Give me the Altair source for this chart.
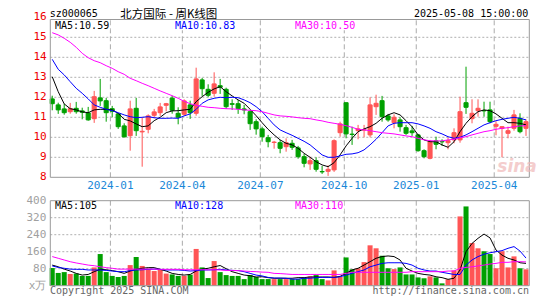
import altair as alt
import pandas as pd

# ---------------- data (weekly candles) ----------------
opens = [11.92, 11.62, 11.42, 11.28, 11.45, 11.32, 11.22, 10.93, 11.97, 11.83,
         11.43, 11.17, 10.57, 10.08, 11.45, 10.27, 10.40, 11.10, 11.23, 11.60,
         11.96, 11.20, 11.15, 11.62, 11.20, 12.87, 12.40, 12.20, 12.58, 12.40,
         11.68, 11.68, 11.42, 11.28, 10.78, 10.42, 9.98, 9.74, 9.73, 9.53,
         9.70, 9.47, 9.03, 8.67, 8.83, 8.29, 8.30, 8.37, 10.23, 11.73,
         10.16, 10.33, 10.36, 10.12, 11.53, 11.83, 11.07, 10.73, 10.87, 10.48,
         10.32, 10.12, 9.33, 8.95, 9.82, 9.79, 9.73, 9.87, 9.87, 11.73,
         10.93, 11.33, 11.34, 11.37, 10.55, 10.45, 10.20, 10.45, 10.95, 10.45]
highs = [12.08, 11.73, 11.67, 11.72, 11.77, 11.48, 11.52, 12.32, 12.92, 11.97,
         11.57, 11.20, 10.70, 11.83, 11.97, 11.00, 11.15, 11.42, 11.72, 11.72,
         12.08, 11.50, 11.90, 11.83, 13.48, 12.97, 12.65, 13.25, 12.92, 12.48,
         11.90, 11.87, 11.62, 11.37, 10.90, 10.53, 10.12, 9.82, 9.87, 9.95,
         9.87, 9.57, 9.17, 9.03, 9.00, 8.57, 8.60, 9.90, 10.78, 11.73,
         10.53, 10.62, 10.62, 12.00, 12.13, 12.07, 11.17, 11.15, 11.00, 10.62,
         10.57, 10.17, 9.40, 9.87, 10.03, 9.90, 10.00, 10.45, 12.03, 13.53,
         11.90, 11.90, 11.78, 11.78, 10.80, 10.55, 10.53, 11.37, 11.20, 10.90]
lows = [11.35, 11.17, 11.13, 11.18, 11.18, 10.90, 10.83, 10.72, 11.57, 10.78,
        11.00, 10.42, 10.00, 9.33, 10.07, 8.53, 10.20, 10.95, 11.07, 11.30,
        11.18, 10.65, 11.07, 10.92, 11.08, 12.07, 12.00, 12.03, 12.17, 11.42,
        11.37, 11.17, 11.15, 10.37, 10.13, 9.78, 9.50, 9.43, 9.20, 9.28,
        9.37, 8.93, 8.50, 8.37, 8.28, 8.17, 8.07, 8.27, 10.03, 9.95,
        9.62, 9.90, 10.00, 10.00, 11.12, 10.78, 10.78, 10.45, 10.28, 10.12,
        10.07, 9.28, 8.95, 8.90, 9.40, 9.57, 9.40, 9.70, 9.73, 11.17,
        10.70, 11.03, 11.03, 10.70, 10.10, 9.00, 9.95, 10.33, 10.20, 10.07]
closes = [11.68, 11.37, 11.23, 11.43, 11.28, 11.25, 10.87, 12.03, 11.82, 11.23,
          11.30, 10.53, 10.02, 11.42, 10.33, 10.30, 11.07, 11.27, 11.52, 11.68,
          11.35, 11.00, 11.82, 11.23, 12.92, 12.43, 12.10, 12.67, 12.50, 11.53,
          11.65, 11.43, 11.37, 10.68, 10.42, 10.03, 9.78, 9.76, 9.45, 9.73,
          9.50, 9.03, 8.70, 8.83, 8.40, 8.27, 8.40, 9.83, 10.67, 10.17,
          10.14, 10.42, 10.38, 11.62, 11.70, 11.03, 10.87, 11.00, 10.53, 10.20,
          10.23, 9.33, 9.03, 9.78, 9.65, 9.77, 9.83, 10.23, 11.28, 11.50,
          11.20, 11.45, 11.32, 10.78, 10.65, 10.53, 10.33, 11.12, 10.28, 10.78]
volumes = [83, 60, 64, 55, 57, 46, 46, 86, 149, 64,
           46, 41, 46, 97, 135, 93, 80, 69, 77, 57,
           53, 46, 46, 52, 173, 86, 36, 116, 64, 50,
           46, 46, 31, 50, 41, 31, 31, 31, 31, 31,
           31, 31, 38, 44, 50, 31, 25, 72, 41, 133,
           77, 82, 111, 190, 176, 141, 82, 78, 86, 53,
           53, 39, 35, 44, 39, 11, 30, 72, 326, 373,
           201, 176, 162, 149, 82, 162, 86, 138, 82, 77]
ma5 = [13.03, 12.28, 11.67, 11.43, 11.37, 11.27, 11.23, 11.37, 11.40, 11.40,
       11.37, 11.20, 10.90, 10.82, 10.67, 10.53, 10.57, 10.83, 11.00, 11.23,
       11.32, 11.33, 11.37, 11.40, 11.78, 12.03, 12.25, 12.42, 12.53, 12.28,
       12.07, 11.87, 11.70, 11.40, 11.08, 10.73, 10.40, 10.12, 9.87, 9.70,
       9.62, 9.45, 9.20, 9.00, 8.78, 8.62, 8.53, 8.73, 9.12, 9.57,
       9.95, 10.28, 10.42, 10.53, 10.70, 10.95, 11.12, 11.23, 11.12, 10.83,
       10.53, 10.12, 9.87, 9.78, 9.78, 9.62, 9.50, 9.78, 10.28, 10.70,
       11.03, 11.28, 11.37, 11.33, 11.17, 10.95, 10.73, 10.73, 10.70, 10.62]
ma10 = [13.90, 13.40, 13.12, 12.78, 12.45, 12.20, 11.92, 11.62, 11.50, 11.40,
        11.33, 11.23, 11.12, 11.03, 10.98, 11.00, 11.03, 10.98, 10.95, 10.95,
        10.96, 10.95, 11.07, 11.17, 11.40, 11.70, 11.87, 11.95, 12.00, 11.98,
        12.00, 11.98, 11.87, 11.73, 11.53, 11.28, 10.95, 10.62, 10.37, 10.23,
        10.10, 9.95, 9.80, 9.62, 9.37, 9.12, 9.00, 9.00, 9.07, 9.15,
        9.17, 9.23, 9.37, 9.62, 9.90, 10.23, 10.57, 10.70, 10.73, 10.73,
        10.73, 10.67, 10.57, 10.45, 10.28, 10.17, 10.03, 9.95, 10.00, 10.12,
        10.28, 10.45, 10.62, 10.73, 10.83, 10.90, 10.95, 11.00, 10.95, 10.87]
ma30 = [15.23, 15.12, 14.95, 14.75, 14.50, 14.20, 13.98, 13.83, 13.73, 13.58,
        13.45, 13.28, 13.15, 12.95, 12.83, 12.70, 12.58, 12.45, 12.32, 12.20,
        12.08, 11.95, 11.80, 11.68, 11.60, 11.55, 11.50, 11.48, 11.45, 11.43,
        11.42, 11.40, 11.37, 11.35, 11.33, 11.28, 11.20, 11.12, 11.07, 11.05,
        11.02, 10.98, 10.95, 10.93, 10.87, 10.82, 10.75, 10.70, 10.65, 10.58,
        10.50, 10.40, 10.37, 10.33, 10.28, 10.23, 10.20, 10.17, 10.12, 10.07,
        10.03, 9.95, 9.87, 9.83, 9.82, 9.82, 9.87, 9.90, 9.98, 10.03,
        10.12, 10.20, 10.28, 10.33, 10.40, 10.45, 10.48, 10.53, 10.57, 10.58]
vma5 = [97, 89, 78, 69, 58, 50, 53, 66, 77, 75,
        71, 66, 58, 69, 77, 82, 85, 85, 77, 69,
        58, 53, 50, 53, 69, 78, 82, 89, 95, 80,
        66, 58, 50, 47, 41, 42, 38, 35, 35, 35,
        35, 38, 38, 41, 41, 41, 41, 39, 44, 58,
        74, 82, 97, 113, 129, 137, 140, 137, 121, 82,
        69, 58, 53, 50, 42, 38, 30, 35, 74, 160,
        199, 223, 243, 225, 168, 144, 129, 121, 108, 105]
vma10 = [93, 86, 82, 78, 77, 77, 74, 74, 74, 72,
         69, 66, 66, 71, 74, 75, 77, 78, 77, 74,
         74, 74, 72, 69, 71, 74, 74, 75, 77, 74,
         72, 71, 66, 58, 50, 46, 39, 36, 36, 35,
         31, 31, 35, 35, 38, 39, 39, 39, 42, 50,
         58, 66, 74, 89, 97, 105, 108, 108, 108, 105,
         97, 82, 74, 69, 69, 63, 58, 53, 53, 97,
         121, 137, 148, 155, 160, 165, 176, 184, 163, 130]
vma30 = [137, 129, 121, 113, 107, 102, 97, 94, 89, 85,
         82, 78, 78, 78, 78, 78, 78, 78, 77, 77,
         77, 77, 75, 75, 75, 75, 75, 75, 74, 72,
         72, 71, 69, 67, 66, 64, 63, 58, 57, 55,
         53, 53, 53, 53, 53, 53, 53, 53, 53, 58,
         63, 63, 63, 63, 63, 63, 63, 63, 63, 63,
         66, 66, 66, 66, 66, 66, 69, 69, 82, 86,
         89, 93, 97, 102, 105, 110, 110, 113, 113, 112]

month_index = [10, 22, 35, 49, 61, 74]          # first week of the month
month_labels = ["2024-01", "2024-04", "2024-07", "2024-10", "2025-01", "2025-04"]
price_ticks = [8, 9, 10, 11, 12, 13, 14, 15, 16]
price_grid = [9, 10, 11, 12, 13, 14, 15]
vol_ticks = [0, 80, 160, 240, 320, 400]
vol_tick_labels = ["x万", "80", "160", "240", "320", "400"]
vol_grid = [80, 160, 240, 320]

code = "sz000065"
title = "北方国际 - 周K线图"
stamp = "2025-05-08 15:00:00"
leg_price = ["MA5:10.59", "MA10:10.83", "MA30:10.50"]
leg_vol = ["MA5:105", "MA10:128", "MA30:110"]

# ---------------- styling ----------------
RED, GREEN = "#ff5555", "#00a000"
MONO = "DejaVu Sans Mono"
CJK = "Noto Sans CJK SC"
W, H = 479, 266
P_TOP = 15.89
X = alt.Scale(domain=[-0.32, 79.55], nice=False, zero=False)
PY = alt.Scale(domain=[8, P_TOP], range=[157.8, 0], nice=False, zero=False)
VY = alt.Scale(domain=[0, 400], range=[266.2, 181.2], nice=False, zero=False)

n = len(opens)
df = pd.DataFrame({
    "i": list(range(n)), "open": opens, "high": highs, "low": lows, "close": closes,
    "vol": volumes, "ma5": ma5, "ma10": ma10, "ma30": ma30,
    "vma5": vma5, "vma10": vma10, "vma30": vma30,
})
df["col"] = [RED if c >= o else GREEN for o, c in zip(opens, closes)]
df["btop"] = df[["open", "close"]].max(axis=1)
df["bbot"] = df[["open", "close"]].min(axis=1)

base = alt.Chart(df)
xq = alt.X("i:Q", scale=X, axis=None)

layers = []

# grid lines
pg = pd.DataFrame({"v": price_grid})
layers.append(alt.Chart(pg).mark_rule(color="#b0b0b0", strokeDash=[2, 2], strokeWidth=1).encode(
    y=alt.Y("v:Q", scale=PY, axis=None),
    x=alt.X(datum=-0.32, scale=X, axis=None), x2=alt.X2(datum=79.55)))
vg = pd.DataFrame({"v": vol_grid})
layers.append(alt.Chart(vg).mark_rule(color="#b0b0b0", strokeDash=[2, 2], strokeWidth=1).encode(
    y=alt.Y("v:Q", scale=VY, axis=None),
    x=alt.X(datum=-0.32, scale=X, axis=None), x2=alt.X2(datum=79.55)))
mdf = pd.DataFrame({"m": month_index, "lab": month_labels})
mline = alt.Chart(mdf).transform_calculate(pos="datum.m - 0.3")
layers.append(mline.mark_rule(color="#aaaaaa", strokeDash=[5, 3], strokeWidth=1).encode(
    x=alt.X("pos:Q", scale=X, axis=None),
    y=alt.Y(datum=8, scale=PY, axis=None), y2=alt.Y2(datum=P_TOP)))
layers.append(mline.mark_rule(color="#aaaaaa", strokeDash=[5, 3], strokeWidth=1).encode(
    x=alt.X("pos:Q", scale=X, axis=None),
    y=alt.Y(datum=0, scale=VY, axis=None), y2=alt.Y2(datum=400)))

# candles
layers.append(base.mark_rule(strokeWidth=1).encode(
    x=xq, y=alt.Y("low:Q", scale=PY, axis=None), y2="high:Q",
    color=alt.Color("col:N", scale=None)))
layers.append(base.transform_calculate(xl="datum.i - 0.34", xr="datum.i + 0.34").mark_bar(
    strokeWidth=1).encode(
    x=alt.X("xl:Q", scale=X, axis=None), x2="xr:Q",
    y=alt.Y("bbot:Q", scale=PY, axis=None), y2="btop:Q",
    color=alt.Color("col:N", scale=None), stroke=alt.Stroke("col:N", scale=None)))

# volume bars
layers.append(base.transform_calculate(xl="datum.i - 0.42", xr="datum.i + 0.42").mark_bar().encode(
    x=alt.X("xl:Q", scale=X, axis=None), x2="xr:Q",
    y=alt.Y("vol:Q", scale=VY, axis=None), y2=alt.Y2(datum=0),
    color=alt.Color("col:N", scale=None)))

# moving averages
for fld, c in (("ma5", "#000000"), ("ma10", "#0000ff"), ("ma30", "#ff00ff")):
    layers.append(base.mark_line(color=c, strokeWidth=1).encode(
        x=xq, y=alt.Y(f"{fld}:Q", scale=PY, axis=None)))
for fld, c in (("vma5", "#000000"), ("vma10", "#0000ff"), ("vma30", "#ff00ff")):
    layers.append(base.mark_line(color=c, strokeWidth=1).encode(
        x=xq, y=alt.Y(f"{fld}:Q", scale=VY, axis=None)))


def txt(s, x, y, color="#000000", size=10, align="left", font=MONO, **kw):
    return alt.Chart(pd.DataFrame({"t": [s]})).mark_text(
        align=align, baseline="middle", color=color, fontSize=size, font=font, **kw
    ).encode(x=alt.value(x), y=alt.value(y), text="t:N")


def bg(x, y, w, h):
    return alt.Chart(pd.DataFrame({"t": [0]})).mark_rect(color="white").encode(
        x=alt.value(x), x2=alt.value(x + w), y=alt.value(y), y2=alt.value(y + h))


leg_cols = ["#000000", "#0000ff", "#ff00ff"]
leg_x = [4.7, 124.7, 244.7]
for s, c, lx in zip(leg_price, leg_cols, leg_x):
    layers.append(bg(lx - 1, 0.8, len(s) * 6.02 + 2, 10))
    layers.append(txt(s, lx, 6.0, color=c))
for s, c, lx in zip(leg_vol, leg_cols, leg_x):
    layers.append(bg(lx - 1, 181.8, len(s) * 6.02 + 2, 10))
    layers.append(txt(s, lx, 186.5, color=c))

# frames
for sc, lo, hi in ((PY, 8, P_TOP), (VY, 0, 400)):
    layers.append(alt.Chart(pd.DataFrame({"t": [0]})).mark_rect(
        fillOpacity=0, stroke="#999999", strokeWidth=1).encode(
        x=alt.X(datum=-0.32, scale=X, axis=None), x2=alt.X2(datum=79.55),
        y=alt.Y(datum=lo, scale=sc, axis=None), y2=alt.Y2(datum=hi)))

# axis labels
ptk = pd.DataFrame({"v": price_ticks, "lab": [str(v) for v in price_ticks]})
layers.append(alt.Chart(ptk).mark_text(align="right", baseline="middle", color="#ee0000",
                                       fontSize=11, font=MONO).encode(
    x=alt.value(-3.6), y=alt.Y("v:Q", scale=PY, axis=None), text="lab:N"))
vtk = pd.DataFrame({"v": vol_ticks, "lab": vol_tick_labels})
layers.append(alt.Chart(vtk).mark_text(align="right", baseline="middle", color="#a0a0a0",
                                       fontSize=11, font=MONO).encode(
    x=alt.value(-4), y=alt.Y("v:Q", scale=VY, axis=None), text="lab:N"))
layers.append(mline.mark_text(align="center", baseline="middle", color="#1a88d8",
                              fontSize=11, font=MONO).encode(
    x=alt.X("pos:Q", scale=X, axis=None), y=alt.value(166.5), text="lab:N"))

# header / footer texts
layers.append(txt(code, -0.6, -5.5, size=10))
layers.append(txt(title, 70, -4.6, size=11.5, font=CJK))
layers.append(txt(stamp, 478, -5.5, size=10, align="right"))
layers.append(txt("Copyright 2025 SINA.COM", -0.3, 271.5, color="#666666", size=10))
layers.append(txt("http://finance.sina.com.cn", 478.7, 271.5, color="#666666", size=10, align="right"))
layers.append(txt("sina", 447, 147, color="#f0b8b8", size=17, font="DejaVu Sans",
                  fontStyle="italic", fontWeight="bold", opacity=0.7))

chart = alt.layer(*layers).resolve_scale(y="independent").properties(
    width=W, height=H,
    autosize=alt.AutoSizeParams(type="none"),
    padding={"left": 42.3, "top": 11.5, "right": 7.7, "bottom": 12},
    background="white",
).configure_view(stroke=None)

chart.save("out.html", embed_options={"renderer": "svg", "actions": False})
